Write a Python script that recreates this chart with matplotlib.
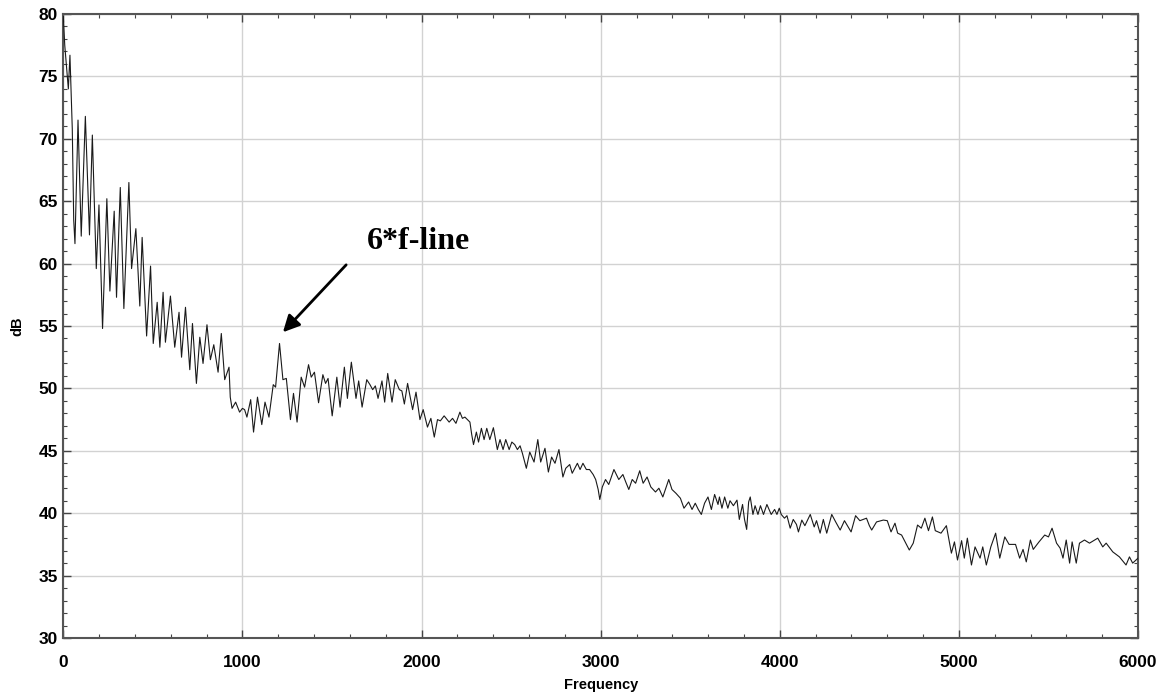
import matplotlib.pyplot as plt
from matplotlib.patches import Rectangle
from matplotlib.ticker import MultipleLocator

# spectrum turning points
freq = [0, 8, 18, 28, 37, 50, 58, 65, 82, 100, 123, 146, 162, 184, 199, 219, 243, 260, 284, 297,
        318, 338, 366, 381, 405, 427, 440, 465, 487, 502, 524, 539, 557, 570, 598, 622, 646, 660,
        682, 706, 721, 743, 762, 780, 802, 821, 840, 864, 882, 901, 925, 932, 942, 962, 984, 1000,
        1012, 1025, 1046, 1062, 1084, 1108, 1126, 1148, 1172, 1185, 1207, 1226, 1245, 1268, 1285,
        1305, 1328, 1347, 1369, 1384, 1402, 1425, 1449, 1464, 1478, 1501, 1527, 1545, 1569, 1586,
        1608, 1634, 1649, 1668, 1694, 1712, 1727, 1742, 1757, 1779, 1794, 1811, 1835, 1853, 1876,
        1890, 1904, 1922, 1950, 1969, 1991, 2009, 2033, 2052, 2071, 2089, 2105, 2126, 2154, 2173,
        2192, 2214, 2228, 2242, 2256, 2270, 2280, 2290, 2306, 2318, 2334, 2349, 2364, 2381, 2401,
        2423, 2438, 2455, 2470, 2489, 2504, 2520, 2535, 2550, 2563, 2585, 2604, 2628, 2649, 2665,
        2689, 2708, 2726, 2745, 2767, 2789, 2805, 2827, 2841, 2870, 2885, 2901, 2920, 2938, 2958,
        2972, 2986, 2995, 3009, 3027, 3045, 3074, 3101, 3124, 3140, 3157, 3176, 3195, 3218, 3237,
        3259, 3280, 3306, 3325, 3347, 3380, 3398, 3420, 3445, 3465, 3491, 3510, 3528, 3545, 3562,
        3580, 3599, 3618, 3636, 3655, 3663, 3677, 3692, 3710, 3722, 3741, 3761, 3774, 3792, 3803,
        3815, 3826, 3835, 3850, 3862, 3878, 3892, 3909, 3928, 3952, 3971, 3984, 3997, 4008, 4026,
        4040, 4058, 4075, 4093, 4104, 4123, 4140, 4170, 4192, 4205, 4225, 4243, 4262, 4290, 4312,
        4337, 4361, 4398, 4423, 4447, 4484, 4500, 4513, 4540, 4578, 4600, 4621, 4643, 4658, 4680,
        4700, 4723, 4745, 4769, 4790, 4810, 4830, 4852, 4868, 4900, 4930, 4958, 4975, 4992, 5015,
        5030, 5047, 5070, 5090, 5118, 5133, 5153, 5178, 5205, 5228, 5256, 5280, 5316, 5339, 5358,
        5376, 5399, 5415, 5447, 5479, 5500, 5520, 5545, 5565, 5581, 5599, 5618, 5632, 5655, 5673,
        5701, 5729, 5775, 5803, 5822, 5859, 5896, 5933, 5952, 5970, 6000]
level = [79.8, 77.5, 75.8, 74.0, 76.7, 70.8, 63.5, 61.6, 71.5, 62.2, 71.8, 62.3, 70.3, 59.6, 64.7,
         54.8, 65.2, 57.8, 64.2, 57.3, 66.1, 56.4, 66.5, 59.6, 62.8, 56.6, 62.1, 54.2, 59.8, 53.6,
         56.9, 53.3, 57.7, 53.7, 57.4, 53.3, 56.1, 52.5, 56.5, 51.5, 55.2, 50.4, 54.1, 52.0, 55.1,
         52.3, 53.5, 51.3, 54.4, 50.7, 51.7, 49.3, 48.4, 48.9, 48.1, 48.4, 48.3, 47.7, 49.1, 46.5,
         49.3, 47.1, 48.9, 47.7, 50.3, 50.1, 53.6, 50.7, 50.8, 47.5, 49.6, 47.3, 50.9, 50.1, 51.9,
         50.9, 51.3, 48.85, 51.1, 50.4, 50.8, 47.8, 50.9, 48.5, 51.7, 49.2, 52.1, 49.2, 50.6, 48.5,
         50.7, 50.3, 49.9, 50.2, 49.2, 50.6, 48.9, 51.2, 48.9, 50.7, 49.9, 49.8, 48.75, 50.4, 48.3,
         49.7, 47.5, 48.3, 46.9, 47.6, 46.1, 47.5, 47.4, 47.8, 47.3, 47.6, 47.2, 48.1, 47.6, 47.7,
         47.5, 47.3, 46.3, 45.5, 46.5, 45.7, 46.8, 45.9, 46.8, 45.9, 46.85, 45.1, 45.9, 45.1, 45.9,
         45.1, 45.7, 45.5, 45.1, 45.4, 44.8, 43.6, 44.9, 44.1, 45.9, 44.1, 45.2, 43.3, 44.5, 44.0,
         45.1, 42.9, 43.6, 43.9, 43.2, 44.0, 43.5, 44.0, 43.5, 43.5, 43.1, 42.7, 41.9, 41.1, 42.1,
         42.7, 42.3, 43.5, 42.7, 43.1, 42.5, 41.9, 42.7, 42.4, 43.4, 42.4, 42.9, 42.1, 41.7, 42.0,
         41.3, 42.7, 41.9, 41.6, 41.2, 40.4, 40.9, 40.3, 40.8, 40.3, 39.9, 40.8, 41.3, 40.3, 41.5,
         40.7, 41.3, 40.4, 41.3, 40.4, 41.0, 40.6, 41.05, 39.5, 40.7, 39.5, 38.7, 40.9, 41.3, 39.9,
         40.6, 39.9, 40.6, 39.9, 40.7, 39.9, 40.3, 39.9, 40.4, 39.9, 39.6, 39.8, 38.8, 39.5, 39.1,
         38.5, 39.45, 39.0, 39.9, 38.9, 39.4, 38.4, 39.5, 38.4, 39.9, 39.3, 38.65, 39.4, 38.5, 39.8,
         39.4, 39.6, 39.0, 38.65, 39.3, 39.45, 39.4, 38.5, 39.2, 38.4, 38.25, 37.7, 37.05, 37.6,
         39.05, 38.8, 39.6, 38.6, 39.7, 38.6, 38.4, 39.0, 36.8, 37.7, 36.25, 37.8, 36.4, 38.0, 35.85,
         37.3, 36.4, 37.3, 35.85, 37.3, 38.4, 36.4, 38.1, 37.5, 37.5, 36.4, 37.1, 36.1, 37.85, 37.1,
         37.7, 38.25, 38.1, 38.8, 37.6, 37.2, 36.4, 37.85, 36.0, 37.7, 36.0, 37.6, 37.85, 37.6, 38.0,
         37.3, 37.6, 36.9, 36.5, 35.85, 36.5, 36.0, 36.4]

x_ticks = [0, 1000, 2000, 3000, 4000, 5000, 6000]
y_ticks = [30, 35, 40, 45, 50, 55, 60, 65, 70, 75, 80]

plt.rcParams['font.family'] = ['Liberation Sans', 'DejaVu Sans']

fig = plt.figure(figsize=(11.64, 6.94), dpi=100)
ax = fig.add_axes([0.0544, 0.0807, 0.9233, 0.8991])

ax.plot(freq, level, color='#1a1a1a', lw=0.8, zorder=3)

ax.set_xlim(0, 6000)
ax.set_ylim(30, 80)
ax.set_xticks(x_ticks)
ax.set_yticks(y_ticks)
ax.xaxis.set_minor_locator(MultipleLocator(200))
ax.yaxis.set_minor_locator(MultipleLocator(1))
ax.grid(True, which='major', color='#d2d2d2', lw=1.0, zorder=0)
ax.tick_params(which='both', direction='in', top=True, right=True, color='#444444')
ax.tick_params(which='major', length=6, width=1, labelsize=12.5)
ax.tick_params(axis='x', which='major', pad=12)
ax.tick_params(axis='y', which='major', pad=4)
ax.tick_params(which='minor', length=3, width=0.8)
for lab in ax.get_xticklabels() + ax.get_yticklabels():
    lab.set_fontweight('bold')
for sp in ax.spines.values():
    sp.set_color('#555555')
    sp.set_linewidth(1.5)

ax.set_xlabel('Frequency', fontsize=10.5, fontweight='bold', labelpad=6)
ax.set_ylabel('dB', fontsize=10.5, fontweight='bold', labelpad=10)

# white box behind the annotation hides the grid
ax.add_patch(Rectangle((1580, 59.0), 920, 5.3, facecolor='white', edgecolor='none', zorder=1))
ax.text(1985, 61.8, '6*f-line', family=['Liberation Serif', 'DejaVu Serif'],
        fontsize=23, fontweight='bold', ha='center', va='center', zorder=4)
ax.annotate('', xy=(1226, 54.5), xytext=(1579, 59.9),
            arrowprops=dict(arrowstyle='-|>', lw=2, color='black', mutation_scale=25,
                            shrinkA=0, shrinkB=0), zorder=4)

fig.savefig('out.png', dpi=100)
